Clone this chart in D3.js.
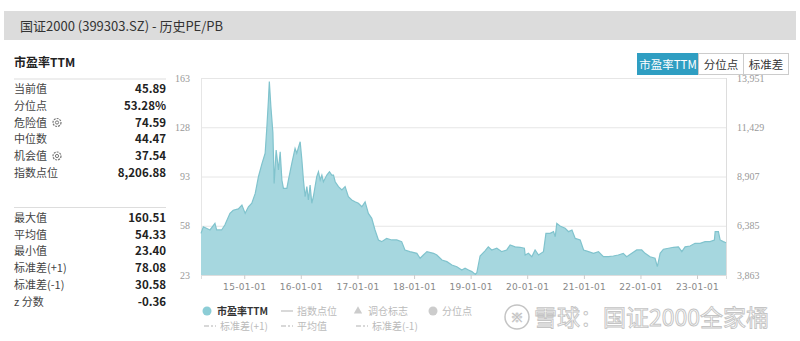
<!DOCTYPE html>
<html>
<head>
<meta charset="UTF-8">
<title>国证2000 历史PE/PB</title>
<script src="https://cdn.jsdelivr.net/npm/d3@7"></script>
<style>
  body { margin: 0; background: #fff; }
  svg { display: block; font-family: "Noto Sans CJK SC", "Noto Sans", sans-serif; }
</style>
</head>
<body>
<div id="chart"></div>
<script>
// PE TTM history
var peDates = ["2014-03-28","2014-04-12","2014-05-25","2014-06-26","2014-07-07","2014-08-08","2014-08-29",
  "2014-10-01","2014-10-22","2014-11-24","2014-12-17","2015-01-07","2015-01-28","2015-02-19","2015-03-13",
  "2015-04-03","2015-04-25","2015-05-16","2015-05-27","2015-06-06","2015-06-12","2015-06-22","2015-07-05",
  "2015-07-13","2015-07-26","2015-08-10","2015-08-21","2015-09-01","2015-09-11","2015-10-03","2015-10-13",
  "2015-11-04","2015-11-25","2015-12-06","2015-12-28","2016-01-08","2016-01-18","2016-01-29","2016-02-09",
  "2016-02-19","2016-03-01","2016-03-12","2016-03-22","2016-04-13","2016-04-24","2016-05-05","2016-05-16",
  "2016-05-26","2016-06-17","2016-07-04","2016-07-19","2016-07-30","2016-08-10","2016-08-31","2016-09-22",
  "2016-10-13","2016-11-03","2016-11-25","2016-12-16","2017-01-07","2017-01-29","2017-02-19","2017-03-12",
  "2017-04-03","2017-04-24","2017-05-16","2017-06-06","2017-07-08","2017-08-10","2017-09-11","2017-10-13",
  "2017-11-03","2017-12-05","2018-01-19","2018-02-09","2018-03-02","2018-03-25","2018-05-07","2018-05-28",
  "2018-06-30","2018-08-01","2018-09-02","2018-10-04","2018-11-05","2018-11-26","2018-12-18","2019-01-09",
  "2019-02-01","2019-02-10","2019-03-03","2019-04-04","2019-04-25","2019-05-17","2019-06-19","2019-07-21",
  "2019-08-22","2019-09-13","2019-10-15","2019-11-16","2019-12-14","2019-12-19","2020-01-09","2020-01-31",
  "2020-02-21","2020-03-14","2020-04-15","2020-05-01","2020-05-28","2020-06-19","2020-06-30","2020-07-10",
  "2020-07-31","2020-09-02","2020-09-24","2020-10-16","2020-11-06","2020-12-08","2020-12-30","2021-01-31",
  "2021-03-04","2021-04-05","2021-05-07","2021-06-08","2021-07-10","2021-08-11","2021-09-12","2021-10-04",
  "2021-11-06","2021-12-08","2022-01-09","2022-01-31","2022-03-04","2022-04-05","2022-04-20","2022-05-08",
  "2022-05-29","2022-07-01","2022-08-02","2022-09-03","2022-09-25","2022-10-16","2022-11-17","2022-12-19",
  "2023-01-21","2023-02-22","2023-03-26","2023-04-23","2023-04-28","2023-05-19","2023-05-30","2023-06-20",
  "2023-07-07"];
var peValues = [52.6,57.3,55,59.7,55,55,58.5,
  66.8,69,70,72.7,66.8,71.5,74,81,
  93,102,109.5,128,147,160.5,142.6,124,
  88,111.8,97.6,110.6,90.5,84.6,84.6,90.5,
  102.4,113,109.5,117.7,104.7,90.5,78.6,85.8,
  76.3,87,74,78.6,92.9,96.4,90.5,94,
  89.3,94,96.4,94,94,89.3,85.8,83.4,
  85.8,78.6,76.3,75,74,71.5,75,66.8,
  63.3,55,47.9,46.7,49,47.9,47.9,46.7,
  40.8,39.6,38.4,34.9,37.2,39.6,38.4,37.2,
  33.7,32.5,30.1,28.9,26.6,27.8,26.6,25.4,
  23.4,24.6,36.5,40.2,43,40.8,42,39.6,
  40.8,44.3,43,42.7,42,37.2,38.4,36,
  40.8,37.2,39.6,52.6,52.6,53.8,50.2,59.7,
  57.8,56.2,53.8,55,49,47.9,40.8,39.6,
  38.4,39.6,36,36,36.5,37.2,38.4,36,
  38.4,40.8,40.8,38.4,36,34.9,28.9,38.4,
  41.3,42,42.7,43,39.6,43,43.6,45.5,
  45.5,46.7,46.7,47.9,53.8,53.8,47.9,46.7,
  45.89];

var leftTicks = [23, 58, 93, 128, 163];
var rightTicks = [3863, 6385, 8907, 11429, 13951];
var yearTicks = ["2015-01-01","2016-01-01","2017-01-01","2018-01-01","2019-01-01",
  "2020-01-01","2021-01-01","2022-01-01","2023-01-01"];
var dateStart = "2014-03-28", dateEnd = "2023-07-07";

var statLabels1 = ["当前值","分位点","危险值","中位数","机会值","指数点位"];
var statValues1 = ["45.89","53.28%","74.59","44.47","37.54","8,206.88"];
var gearRows = [2, 4];
var statLabels2 = ["最大值","平均值","最小值","标准差(+1)","标准差(-1)","z 分数"];
var statValues2 = ["160.51","54.33","23.40","78.08","30.58","-0.36"];

var buttons = ["市盈率TTM","分位点","标准差"];

var W = 800, H = 341;
var plot = {left: 201, right: 726, top: 78, bottom: 275};
var parse = d3.timeParse("%Y-%m-%d");

var svg = d3.select("#chart").append("svg")
  .attr("width", W).attr("height", H);

// header bar
svg.append("rect").attr("x", 4).attr("y", 11).attr("width", 792).attr("height", 29)
  .attr("fill", "#dcdcdc");
svg.append("text").attr("x", 20).attr("y", 30.5)
  .attr("font-size", 13).attr("fill", "#333")
  .text("国证2000 (399303.SZ) - 历史PE/PB");

// left stats panel
svg.append("text").attr("x", 14).attr("y", 67)
  .attr("font-size", 12).attr("font-weight", "bold").attr("fill", "#222")
  .text("市盈率TTM");
svg.append("line").attr("x1", 14).attr("x2", 166).attr("y1", 79).attr("y2", 79)
  .attr("stroke", "#ddd");
svg.append("line").attr("x1", 14).attr("x2", 166).attr("y1", 207.5).attr("y2", 207.5)
  .attr("stroke", "#ddd");

function statBlock(labels, values, y0, step) {
  labels.forEach(function (l, i) {
    var y = y0 + i * step + 4;
    svg.append("text").attr("x", 14).attr("y", y)
      .attr("font-size", 11).attr("fill", "#444").text(l);
    svg.append("text").attr("x", 166).attr("y", y).attr("text-anchor", "end")
      .attr("font-size", 11.5).attr("font-weight", "bold").attr("fill", "#222").text(values[i]);
  });
}
statBlock(statLabels1, statValues1, 89, 16.75);
statBlock(statLabels2, statValues2, 218, 16.7);

// little gear icons
gearRows.forEach(function (r) {
  var g = svg.append("g").attr("transform", "translate(57," + (89 + r * 16.75) + ")");
  g.append("circle").attr("r", 4).attr("fill", "none").attr("stroke", "#777")
    .attr("stroke-width", 1.2).attr("stroke-dasharray", "2 1");
  g.append("circle").attr("r", 1.6).attr("fill", "none").attr("stroke", "#777");
});

// toggle buttons
var bx = [637, 698, 743], bw = [61, 45, 45];
buttons.forEach(function (b, i) {
  svg.append("rect").attr("x", bx[i] + 0.5).attr("y", 53.5).attr("width", bw[i]).attr("height", 21)
    .attr("fill", i === 0 ? "#2f9ec2" : "#fff")
    .attr("stroke", i === 0 ? "#2f9ec2" : "#ccc");
  svg.append("text").attr("x", bx[i] + bw[i] / 2 + 0.5).attr("y", 68.5)
    .attr("text-anchor", "middle").attr("font-size", 11.5)
    .attr("fill", i === 0 ? "#fff" : "#333").text(b);
});

// scales
var x = d3.scaleTime().domain([parse(dateStart), parse(dateEnd)]).range([plot.left, plot.right]);
var y = d3.scaleLinear().domain([23, 163]).range([plot.bottom, plot.top]);
var y2 = d3.scaleLinear().domain([3863, 13951]).range([plot.bottom, plot.top]);

// grid
svg.append("g").selectAll("line").data(leftTicks).enter().append("line")
  .attr("x1", plot.left).attr("x2", plot.right)
  .attr("y1", function (d) { return y(d) + 0.5; }).attr("y2", function (d) { return y(d) + 0.5; })
  .attr("stroke", "#e6e6e6");
svg.append("line").attr("x1", plot.left + 0.5).attr("x2", plot.left + 0.5)
  .attr("y1", plot.top).attr("y2", plot.bottom).attr("stroke", "#e6e6e6");
svg.append("line").attr("x1", plot.right + 0.5).attr("x2", plot.right + 0.5)
  .attr("y1", plot.top).attr("y2", plot.bottom).attr("stroke", "#ddd");

// area
var pts = peDates.map(function (d, i) { return {date: parse(d), v: peValues[i]}; });
var area = d3.area().x(function (d) { return x(d.date); })
  .y0(plot.bottom).y1(function (d) { return y(d.v); });
var line = d3.line().x(function (d) { return x(d.date); }).y(function (d) { return y(d.v); });
svg.append("path").datum(pts).attr("d", area).attr("fill", "#a6d7df");
svg.append("path").datum(pts).attr("d", line).attr("fill", "none")
  .attr("stroke", "#80c3cd").attr("stroke-width", 1.2);

// axes
var xAxis = d3.axisBottom(x).tickValues(yearTicks.map(parse))
  .tickFormat(d3.timeFormat("%y-%m-%d")).tickSize(4).tickPadding(5);
var gx = svg.append("g").attr("transform", "translate(0," + plot.bottom + ")").call(xAxis);
gx.select(".domain").attr("stroke", "#ddd");
gx.selectAll(".tick line").attr("stroke", "#ccc");
gx.selectAll("text").attr("fill", "#888").attr("font-size", 9)
  .attr("font-family", "DejaVu Sans").attr("letter-spacing", "0.3");

var gl = svg.append("g").attr("transform", "translate(" + plot.left + ",0)")
  .call(d3.axisLeft(y).tickValues(leftTicks).tickSize(0).tickPadding(11));
gl.select(".domain").remove();
gl.selectAll("text").attr("fill", "#999").attr("font-size", 10).attr("font-family", "Liberation Serif");

var gr = svg.append("g").attr("transform", "translate(" + plot.right + ",0)")
  .call(d3.axisRight(y2).tickValues(rightTicks).tickFormat(d3.format(",")).tickSize(0).tickPadding(11));
gr.select(".domain").remove();
gr.selectAll("text").attr("fill", "#999").attr("font-size", 10).attr("font-family", "Liberation Serif");

// legend
var lg = svg.append("g").attr("font-size", 10);
lg.append("circle").attr("cx", 207).attr("cy", 311).attr("r", 4.5).attr("fill", "#8ccdd6");
lg.append("text").attr("x", 217).attr("y", 315).attr("fill", "#333").attr("font-weight", "bold")
  .text("市盈率TTM");
lg.append("line").attr("x1", 281).attr("x2", 293).attr("y1", 311).attr("y2", 311).attr("stroke", "#ccc").attr("stroke-width", 1.5);
lg.append("text").attr("x", 297).attr("y", 315).attr("fill", "#bbb").text("指数点位");
lg.append("path").attr("d", d3.symbol(d3.symbolTriangle, 30)()).attr("transform", "translate(358,311)").attr("fill", "#ccc");
lg.append("text").attr("x", 368).attr("y", 315).attr("fill", "#bbb").text("调仓标志");
lg.append("circle").attr("cx", 433).attr("cy", 311).attr("r", 4.5).attr("fill", "#ccc");
lg.append("text").attr("x", 442).attr("y", 315).attr("fill", "#bbb").text("分位点");
var row2 = [[204, "标准差(+1)"], [281, "平均值"], [356, "标准差(-1)"]];
row2.forEach(function (r) {
  lg.append("line").attr("x1", r[0]).attr("x2", r[0] + 12).attr("y1", 326).attr("y2", 326)
    .attr("stroke", "#ccc").attr("stroke-width", 1.5).attr("stroke-dasharray", "5 2 2 2");
  lg.append("text").attr("x", r[0] + 16).attr("y", 330).attr("fill", "#bbb").text(r[1]);
});

// watermark
var wm = svg.append("g");
wm.append("circle").attr("cx", 517).attr("cy", 317).attr("r", 12)
  .attr("fill", "none").attr("stroke", "#c4c4c4").attr("stroke-width", 1.5);
wm.append("text").attr("x", 517).attr("y", 322).attr("text-anchor", "middle")
  .attr("font-size", 13).attr("fill", "none").attr("stroke", "#c4c4c4").attr("stroke-width", 0.8)
  .text("※");
wm.append("text").attr("x", 534).attr("y", 326).attr("font-size", 23)
  .attr("fill", "#fff").attr("stroke", "#c4c4c4").attr("stroke-width", 0.9)
  .text("雪球：国证2000全家桶");
</script>
</body>
</html>
